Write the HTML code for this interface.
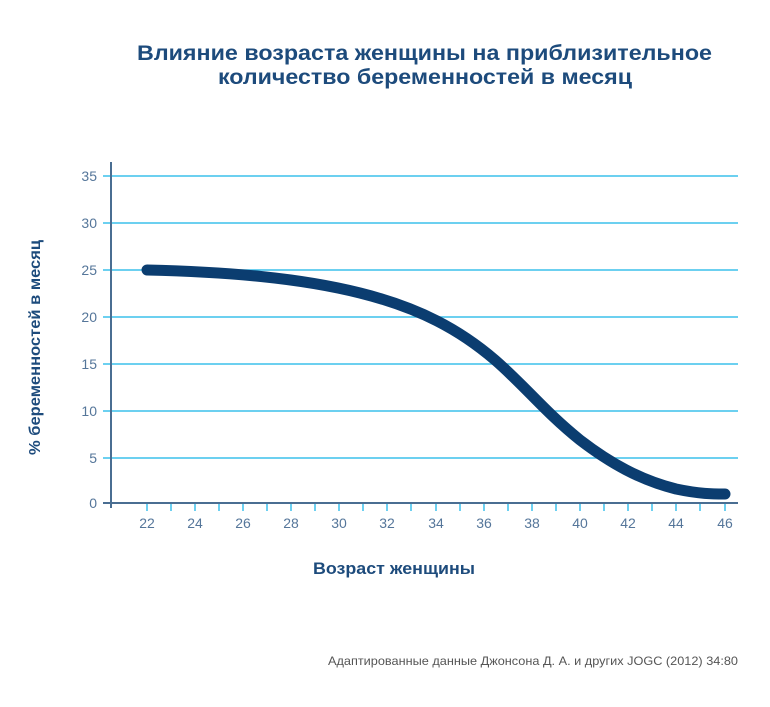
<!DOCTYPE html><html><head><meta charset="utf-8"><style>body{margin:0;background:#fff;width:770px;height:702px;overflow:hidden}</style></head><body>
<svg width="770" height="702" xmlns="http://www.w3.org/2000/svg" font-family="Liberation Sans, sans-serif">
<text x="137" y="60" textLength="575" lengthAdjust="spacingAndGlyphs" font-size="21" font-weight="bold" fill="#1d4b7c">Влияние возраста женщины на приблизительное</text>
<text x="218" y="84" textLength="414" lengthAdjust="spacingAndGlyphs" font-size="21" font-weight="bold" fill="#1d4b7c">количество беременностей в месяц</text>
<g stroke="#3cc0ec" stroke-width="1.5">
<line x1="103" y1="176" x2="738" y2="176"/><line x1="103" y1="223" x2="738" y2="223"/><line x1="103" y1="270" x2="738" y2="270"/><line x1="103" y1="317" x2="738" y2="317"/><line x1="103" y1="364" x2="738" y2="364"/><line x1="103" y1="411" x2="738" y2="411"/><line x1="103" y1="458" x2="738" y2="458"/>
</g>
<g stroke="#3cc0ec" stroke-width="1.5">
<line x1="147" y1="503" x2="147" y2="511"/><line x1="171" y1="503" x2="171" y2="511"/><line x1="195" y1="503" x2="195" y2="511"/><line x1="219" y1="503" x2="219" y2="511"/><line x1="243" y1="503" x2="243" y2="511"/><line x1="267" y1="503" x2="267" y2="511"/><line x1="291" y1="503" x2="291" y2="511"/><line x1="315" y1="503" x2="315" y2="511"/><line x1="339" y1="503" x2="339" y2="511"/><line x1="363" y1="503" x2="363" y2="511"/><line x1="387" y1="503" x2="387" y2="511"/><line x1="411" y1="503" x2="411" y2="511"/><line x1="436" y1="503" x2="436" y2="511"/><line x1="460" y1="503" x2="460" y2="511"/><line x1="484" y1="503" x2="484" y2="511"/><line x1="508" y1="503" x2="508" y2="511"/><line x1="532" y1="503" x2="532" y2="511"/><line x1="556" y1="503" x2="556" y2="511"/><line x1="580" y1="503" x2="580" y2="511"/><line x1="604" y1="503" x2="604" y2="511"/><line x1="628" y1="503" x2="628" y2="511"/><line x1="652" y1="503" x2="652" y2="511"/><line x1="676" y1="503" x2="676" y2="511"/><line x1="700" y1="503" x2="700" y2="511"/><line x1="725" y1="503" x2="725" y2="511"/>
</g>
<line x1="111" y1="162" x2="111" y2="508" stroke="#4a6e92" stroke-width="2"/>
<line x1="103" y1="503" x2="738" y2="503" stroke="#4a6e92" stroke-width="2"/>
<g font-size="14" fill="#55769a" text-anchor="end">
<text x="97" y="181">35</text><text x="97" y="228">30</text><text x="97" y="275">25</text><text x="97" y="322">20</text><text x="97" y="369">15</text><text x="97" y="416">10</text><text x="97" y="463">5</text><text x="97" y="508">0</text>
</g>
<g font-size="14" fill="#55769a" text-anchor="middle">
<text x="147" y="528">22</text><text x="195" y="528">24</text><text x="243" y="528">26</text><text x="291" y="528">28</text><text x="339" y="528">30</text><text x="387" y="528">32</text><text x="436" y="528">34</text><text x="484" y="528">36</text><text x="532" y="528">38</text><text x="580" y="528">40</text><text x="628" y="528">42</text><text x="676" y="528">44</text><text x="725" y="528">46</text>
</g>
<path d="M147,270 C230,272 300,278 360,293 C420,308 460,330 495,360 C525,386 545,412 580,440 C610,463 640,480 676,489 C700,494 712,494 725,494" fill="none" stroke="#0b3d70" stroke-width="11" stroke-linecap="round"/>
<text transform="translate(40,455) rotate(-90)" textLength="215" lengthAdjust="spacingAndGlyphs" font-size="16" font-weight="bold" fill="#1d4b7c">% беременностей в месяц</text>
<text x="313" y="574" textLength="162" lengthAdjust="spacingAndGlyphs" font-size="17" font-weight="bold" fill="#1d4b7c">Возраст женщины</text>
<text x="328" y="665" textLength="410" lengthAdjust="spacingAndGlyphs" font-size="12" fill="#555">Адаптированные данные Джонсона Д. А. и других JOGC (2012) 34:80</text>
</svg></body></html>
